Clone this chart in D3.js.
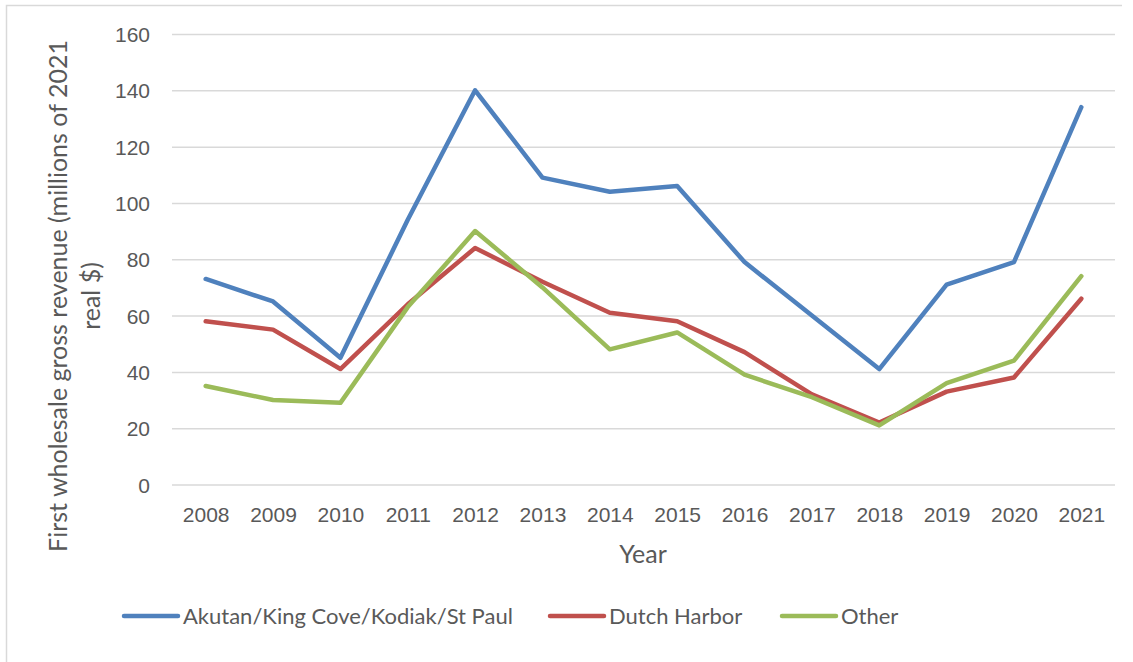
<!DOCTYPE html>
<html>
<head>
<meta charset="utf-8">
<script src="https://cdn.jsdelivr.net/npm/d3@7"></script>
<style>
  body { margin: 0; background: #fff; }
  svg { display: block; font-family: Lato, "Open Sans", sans-serif; }
  .tick text { fill: #595959; font-size: 21px; }
</style>
</head>
<body>
<div id="line-chart"></div>
<script>
var years = [2008, 2009, 2010, 2011, 2012, 2013, 2014, 2015, 2016, 2017, 2018, 2019, 2020, 2021];
var akutan = [73, 65, 45, 94, 140, 109, 104, 106, 79, 60, 41, 71, 79, 134];
var dutch = [58, 55, 41, 64, 84, 72, 61, 58, 47, 32, 22, 33, 38, 66];
var other = [35, 30, 29, 63, 90, 70, 48, 54, 39, 31, 21, 36, 44, 74];
var seriesNames = ["Akutan/King Cove/Kodiak/St Paul", "Dutch Harbor", "Other"];
var yTicks = [0, 20, 40, 60, 80, 100, 120, 140, 160];

var colors = ["#4F81BD", "#C0504D", "#9BBB59"];
var W = 1133, H = 662;
var plot = {left: 172, right: 1115, top: 34, bottom: 484.5};

var svg = d3.select("#line-chart").append("svg")
	.attr("width", W)
	.attr("height", H);

// chart frame (only top and left visible in the crop)
svg.append("path")
	.attr("d", "M6.5,700 V5.5 H1122")
	.attr("fill", "none")
	.attr("stroke", "#d9d9d9")
	.attr("stroke-width", 1.5);

var x = d3.scalePoint()
	.domain(years)
	.range([plot.left, plot.right])
	.padding(0.5);

var y = d3.scaleLinear()
	.domain([0, 160])
	.range([plot.bottom, plot.top]);

// y axis with gridlines
var yAxis = svg.append("g")
	.attr("transform", "translate(" + plot.left + ",0)")
	.call(d3.axisLeft(y).tickValues(yTicks).tickSize(-(plot.right - plot.left)).tickPadding(22));
yAxis.select(".domain").remove();
yAxis.selectAll(".tick line").attr("stroke", "#d9d9d9").attr("stroke-width", 1.5);
yAxis.selectAll(".tick text").attr("dy", "0.36em");

// x axis
var xAxis = svg.append("g")
	.attr("transform", "translate(0," + plot.bottom + ")")
	.call(d3.axisBottom(x).tickSize(0).tickPadding(23).tickFormat(d3.format("d")));
xAxis.select(".domain").remove();

// lines
var line = d3.line()
	.x(function(d, i) { return x(years[i]); })
	.y(function(d) { return y(d); });

[akutan, dutch, other].forEach(function(s, i) {
	svg.append("path")
		.datum(s)
		.attr("d", line)
		.attr("fill", "none")
		.attr("stroke", colors[i])
		.attr("stroke-width", 4.5)
		.attr("stroke-linejoin", "round")
		.attr("stroke-linecap", "round");
});

// axis titles
var yTitle = svg.append("text")
	.attr("transform", "translate(58,296) rotate(-90)")
	.attr("text-anchor", "middle")
	.style("font-size", "25px")
	.style("fill", "#595959");
yTitle.append("tspan").attr("x", 0).attr("dy", "0.36em").text("First wholesale gross revenue  (millions of 2021");
yTitle.append("tspan").attr("x", 0).attr("dy", "1.32em").text("real $)");

svg.append("text")
	.attr("x", 643)
	.attr("y", 563)
	.attr("text-anchor", "middle")
	.style("font-size", "25px")
	.style("fill", "#595959")
	.text("Year");

// legend
var legendX = [124, 550, 782];
seriesNames.forEach(function(name, i) {
	var g = svg.append("g").attr("transform", "translate(" + legendX[i] + ",616)");
	g.append("line")
		.attr("x1", 0).attr("x2", 54)
		.attr("stroke", colors[i])
		.attr("stroke-width", 4.5)
		.attr("stroke-linecap", "round");
	g.append("text")
		.attr("x", 59)
		.attr("dy", "0.36em")
		.style("font-size", "22px")
		.style("fill", "#595959")
		.text(name);
});
</script>
</body>
</html>
